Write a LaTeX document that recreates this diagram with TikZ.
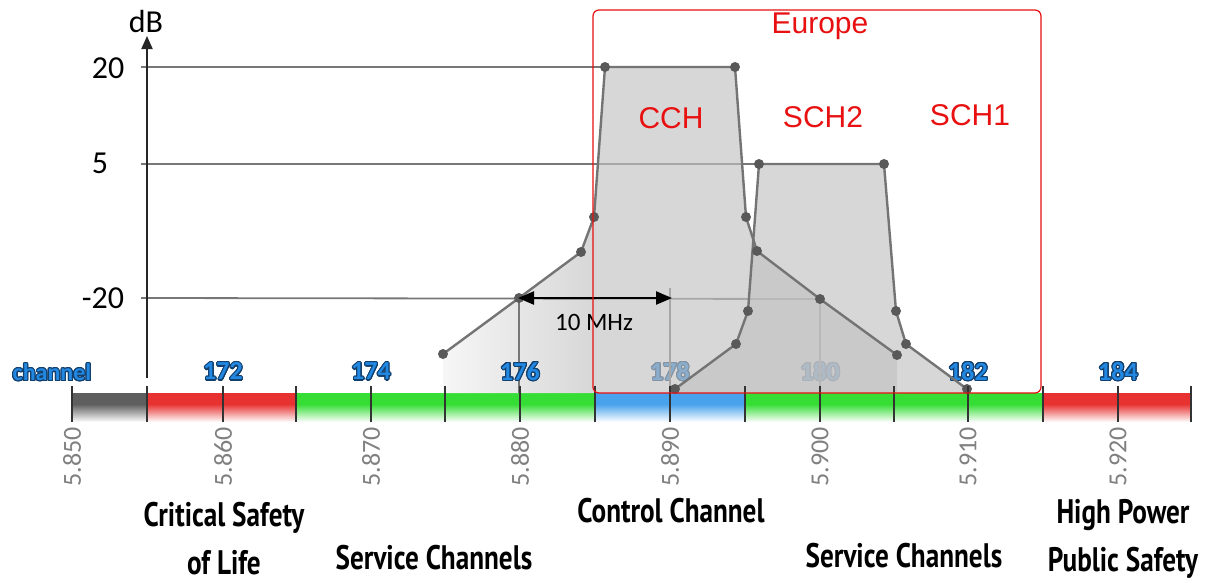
\documentclass[tikz,border=0pt]{standalone}
\usepackage{fontspec}
\setmainfont{Carlito}
\newfontfamily\arialf{Liberation Sans}
\newfontfamily\bandf{PT Sans}[FakeStretch=0.8]
\usepackage[copies]{contour}
\contourlength{1.1pt}
\contournumber{20}
\usetikzlibrary{arrows.meta}
\definecolor{chanblue}{HTML}{2288E2}
\definecolor{chanedge}{HTML}{133F6C}
\definecolor{barred}{HTML}{E83232}
\definecolor{bargreen}{HTML}{35DD35}
\definecolor{barblue}{HTML}{48A2EC}
\definecolor{bargray}{HTML}{5E5E5E}
\definecolor{gridgray}{HTML}{777777}
\definecolor{curvegray}{HTML}{747474}
\definecolor{dotgray}{HTML}{595959}
\definecolor{fillgray}{HTML}{C2C2C2}
\definecolor{fillflat}{HTML}{D7D7D7}
\definecolor{fillpale}{HTML}{F6F6F6}
\definecolor{freqgray}{HTML}{808080}
\definecolor{eured}{HTML}{E81010}
\begin{document}
\begin{tikzpicture}[x=1pt,y=-1pt,
  gridline/.style={draw=gridgray,line width=1.8pt},
  dropline/.style={draw=gridgray,line width=1.3pt},
  curve/.style={draw=curvegray,line width=2.4pt,line join=round},
  band/.style={fill=fillgray,fill opacity=0.65},
  dot/.style={circle,fill=dotgray,inner sep=0pt,minimum size=10pt},
  tick/.style={draw=black!80,line width=1.8pt},
  chanlbl/.style={font=\fontsize{26}{26}\selectfont\bfseries},
  freqlbl/.style={font=\fontsize{26}{26}\selectfont,text=freqgray,rotate=90},
  dblbl/.style={font=\fontsize{32}{32}\selectfont},
  redlbl/.style={font=\arialf\fontsize{30}{30}\selectfont,text=eured},
  bandlbl/.style={font=\bandf\fontsize{34}{34}\selectfont\bfseries,text=black,align=center},
]
\useasboundingbox (0,0) rectangle (1205,582);

% channel bar: solid top strip fading to white below
\foreach \xa/\xb/\c in {72/147/bargray,147/296/barred,296/595/bargreen,595/745/barblue,745/1043/bargreen,1043/1191/barred}{
  \fill[\c] (\xa,393) rectangle (\xb,404);
  \shade[top color=\c,bottom color=white] (\xa,404) rectangle (\xb,422);
}

% spectrum mask points
\coordinate (c1) at (443,354);
\coordinate (c2) at (519,298);
\coordinate (c3) at (581,252);
\coordinate (c4) at (594,217);
\coordinate (c45) at (595,203);
\coordinate (c5) at (605,67);
\coordinate (c6) at (735,67);
\coordinate (c7) at (746,217);
\coordinate (c8) at (757,251);
\coordinate (c9) at (820,299);
\coordinate (c10) at (897,355);
\coordinate (s1) at (675,389);
\coordinate (s2) at (736,344);
\coordinate (s3) at (748,311);
\coordinate (s4) at (759,164);
\coordinate (s5) at (884,164);
\coordinate (s6) at (896,311);
\coordinate (s7) at (906,344);
\coordinate (s8) at (967,389);

% pale skirt of the control channel mask, fading out to the left
\shade[left color=fillpale,right color=fillflat] (443,393) -- (c1) -- (c2) -- (c3) -- (c4) -- (c45) -- (595,393) -- cycle;

% channel numbers below the masks
\node[chanlbl] (ch178) at (670,372) {\contour{chanedge}{\textcolor{chanblue}{178}}};
\node[chanlbl] (ch180) at (820,372) {\contour{chanedge}{\textcolor{chanblue}{180}}};

% y axis and its reference levels
\coordinate (ybot) at (147,378);
\coordinate (ytop) at (147,36);
\coordinate (g20) at (141,67);
\coordinate (g5) at (141,164);
\coordinate (gm20) at (141,298);
\draw[gridline] (g20) -- (c5);
\draw[gridline] (g5) -- (s4);
\draw[gridline] (gm20) -- (c9);

% drop lines to the frequency axis
\coordinate (v1) at (519,393);
\coordinate (v2t) at (670,288);
\coordinate (v2) at (670,393);
\coordinate (v3) at (820,393);
\draw[dropline] (c2) -- (v1);
\draw[dropline] (v2t) -- (v2);
\draw[dropline] (c9) -- (v3);

% filled masks
\fill[band] (595,393) -- (c45) -- (c5) -- (c6) -- (c7) -- (c8) -- (c9) -- (c10) -- (897,393) -- cycle;
\fill[band] (675,393) -- (s1) -- (s2) -- (s3) -- (s4) -- (s5) -- (s6) -- (s7) -- (s8) -- (967,393) -- cycle;

% remaining channel numbers
\node[chanlbl,font=\fontsize{24}{24}\selectfont\bfseries] (chname) at (52,373) {\contour{chanedge}{\textcolor{chanblue}{channel}}};
\foreach \x/\n in {223/172,371/174,520/176,968/182,1118/184}
  \node[chanlbl] (ch\n) at (\x,372) {\contour{chanedge}{\textcolor{chanblue}{\n}}};

% mask outlines
\draw[curve] (c1) -- (c2) -- (c3) -- (c4) -- (c5) -- (c6) -- (c7) -- (c8) -- (c9) -- (c10);
\draw[curve] (s1) -- (s2) -- (s3) -- (s4) -- (s5) -- (s6) -- (s7) -- (s8);
\foreach \p in {c1,c2,c3,c4,c5,c6,c7,c8,c9,c10,s1,s2,s3,s4,s5,s6,s7,s8}
  \node[dot] (dot\p) at (\p) {};

% bar ticks
\foreach \x in {72,147,223,296,371,445,520,595,670,745,820,894,968,1043,1118,1191}
  \draw[tick] (\x,386) -- (\x,422);

% y axis
\draw[draw=black!85,line width=2pt,-{Triangle[length=13pt,width=11pt]}] (ybot) -- (ytop);
\node[dblbl] (db) at (146,21) {dB};
\node[dblbl] (l20) at (108,68) {20};
\node[dblbl] (l5) at (100,163) {5};
\node[dblbl] (lm20) at (103,298) {-20};

% channel spacing arrow
\coordinate (a1) at (518,298);
\coordinate (a2) at (672,298);
\draw[line width=2.4pt,{Triangle[length=16pt,width=13pt]}-{Triangle[length=16pt,width=13pt]}] (a1) -- (a2);
\node[font=\fontsize{25}{25}\selectfont] (mhz) at (594,322) {10 MHz};

% European allocation
\draw[eured,line width=1.2pt,rounded corners=6pt] (593,10) rectangle (1041,393);
\node[redlbl] (eu) at (820,26) {Europe};
\node[redlbl] (cch) at (671,118) {CCH};
\node[redlbl] (sch2) at (823,117) {SCH2};
\node[redlbl] (sch1) at (970,115) {SCH1};

% frequencies in GHz
\foreach \x/\f in {72/5.850,223/5.860,371/5.870,520/5.880,670/5.890,820/5.900,968/5.910,1118/5.920}
  \node[freqlbl] (f\x) at (\x,457) {\f};

% channel usage
\node[bandlbl] (csl1) at (224,518) {Critical Safety};
\node[bandlbl] (csl2) at (224,563) {of Life};
\node[bandlbl] (sc1) at (434,558) {Service Channels};
\node[bandlbl] (cc) at (671,511) {Control Channel};
\node[bandlbl] (sc2) at (904,556) {Service Channels};
\node[bandlbl] (hp1) at (1123,515) {High Power};
\node[bandlbl] (hp2) at (1123,563) {Public Safety};
\end{tikzpicture}
\end{document}
